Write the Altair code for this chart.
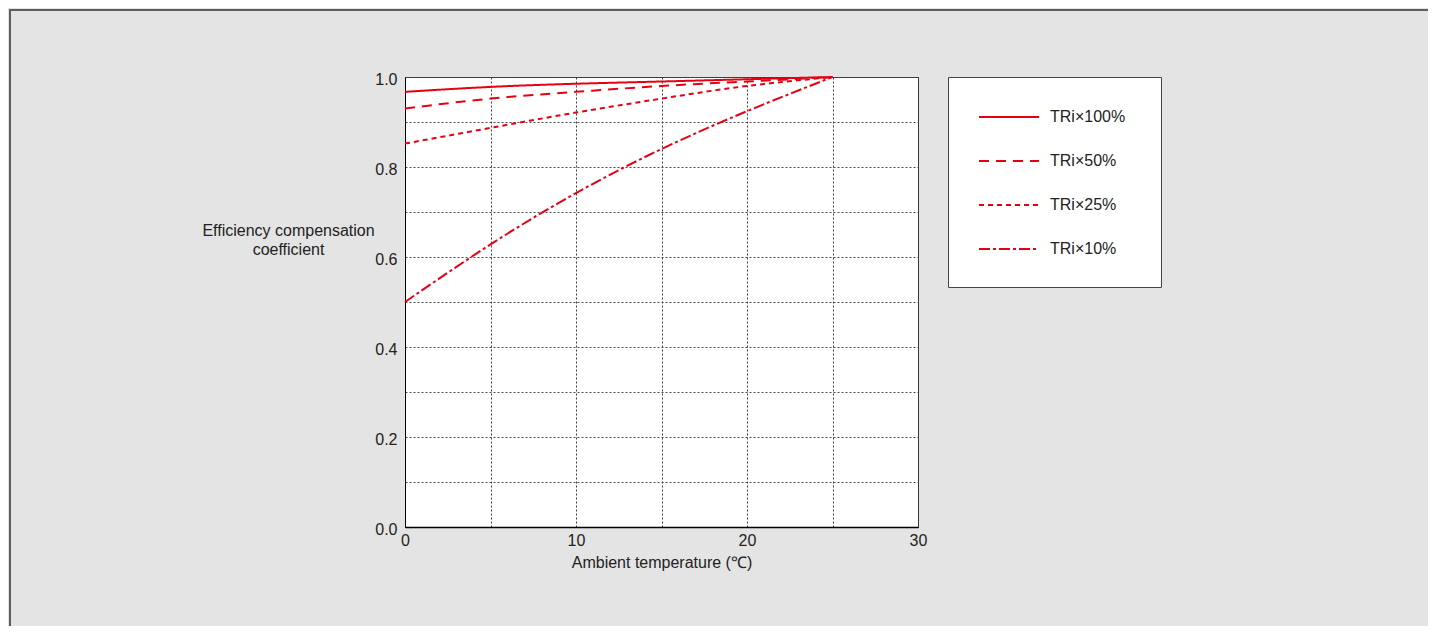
import altair as alt
import pandas as pd

# ---- data ----
temps = [0, 5, 10, 15, 20, 25]
series_names = ["TRi×100%", "TRi×50%", "TRi×25%", "TRi×10%"]
coef_100 = [0.967, 0.978, 0.985, 0.990, 0.995, 1.0]
coef_50 = [0.930, 0.952, 0.967, 0.980, 0.990, 1.0]
coef_25 = [0.852, 0.887, 0.921, 0.952, 0.980, 1.0]
coef_10 = [0.500, 0.628, 0.742, 0.840, 0.924, 1.0]

x_grid_values = [0, 5, 10, 15, 20, 25, 30]
y_grid_values = [0.0, 0.1, 0.2, 0.3, 0.4, 0.5, 0.6, 0.7, 0.8, 0.9, 1.0]

rows = []
for name, vals in zip(series_names, [coef_100, coef_50, coef_25, coef_10]):
    for t, v in zip(temps, vals):
        rows.append({"temp": t, "coef": v, "series": name})
df = pd.DataFrame(rows)

RED = "#e60012"
FONT = "Liberation Sans"

lines = alt.Chart(df).mark_line(color=RED, strokeWidth=2, interpolate="natural").encode(
    x=alt.X("temp:Q",
            scale=alt.Scale(domain=[0, 30], nice=False, zero=False),
            axis=alt.Axis(values=x_grid_values,
                          labelExpr="datum.value % 10 == 0 ? datum.label : ''",
                          title="Ambient temperature (\u2103)",
                          titleY=35, titleBaseline="middle",
                          titleFontWeight="normal", titleFontSize=16, titleFont=FONT,
                          titleColor="#222",
                          labelFontSize=16, labelFont=FONT, labelColor="#222",
                          labelPadding=5, labelFlush=False,
                          ticks=False, domainColor="#000", domainWidth=1.5,
                          grid=True, gridColor="#3a3a3a", gridDash=[2, 2], gridWidth=1)),
    y=alt.Y("coef:Q",
            scale=alt.Scale(domain=[0, 1.0], nice=False, zero=False),
            axis=alt.Axis(values=y_grid_values,
                          labelExpr="round(datum.value*10) % 2 == 0 ? format(datum.value, '.1f') : ''",
                          title=["Efficiency compensation", "coefficient"],
                          titleAngle=0, titleAlign="center", titleBaseline="middle",
                          titleX=-117, titleY=153, titleLineHeight=19,
                          titleFontWeight="normal", titleFontSize=16, titleFont=FONT,
                          titleColor="#222",
                          labelFontSize=16, labelFont=FONT, labelColor="#222",
                          labelPadding=8, labelFlush=False, labelOffset=2,
                          ticks=False, domainColor="#000", domainWidth=1,
                          grid=True, gridColor="#4a4a4a", gridDash=[2, 2], gridWidth=1)),
    strokeDash=alt.StrokeDash("series:N",
                              scale=alt.Scale(domain=series_names,
                                              range=[[1, 0], [10, 7], [5, 4], [11, 3, 3, 3]]),
                              legend=alt.Legend(orient="none", legendX=573, legendY=30,
                                                title=None, padding=0,
                                                symbolType="stroke", symbolSize=3600,
                                                symbolStrokeColor=RED, symbolStrokeWidth=2,
                                                clipHeight=20, rowPadding=24,
                                                labelOffset=10, labelFontSize=16,
                                                labelFont=FONT, labelColor="#222",
                                                labelBaseline="middle")),
)

one = pd.DataFrame({"k": [0]})

legend_box = alt.Chart(one).mark_rect(fill="white", stroke="#444", strokeWidth=1).encode(
    x=alt.value(543.5), x2=alt.value(756.5), y=alt.value(0.5), y2=alt.value(210.5)
)

frame_left = alt.Chart(one).mark_rule(color="#5e5e5e", strokeWidth=2).encode(
    x=alt.value(-395), y=alt.value(-68), y2=alt.value(600)
)
frame_top = alt.Chart(one).mark_rule(color="#5e5e5e", strokeWidth=2).encode(
    x=alt.value(-396), x2=alt.value(1100), y=alt.value(-67)
)

chart = alt.layer(legend_box, frame_left, frame_top, lines).properties(
    width=513, height=450,
    background="#e4e4e4",
    padding={"left": 397, "top": 69, "right": 510, "bottom": 99},
    autosize=alt.AutoSizeParams(type="none"),
).configure_view(
    fill="white", stroke="#333", strokeWidth=1
)

chart.save("out.html", embed_options={"renderer": "svg", "actions": False})
